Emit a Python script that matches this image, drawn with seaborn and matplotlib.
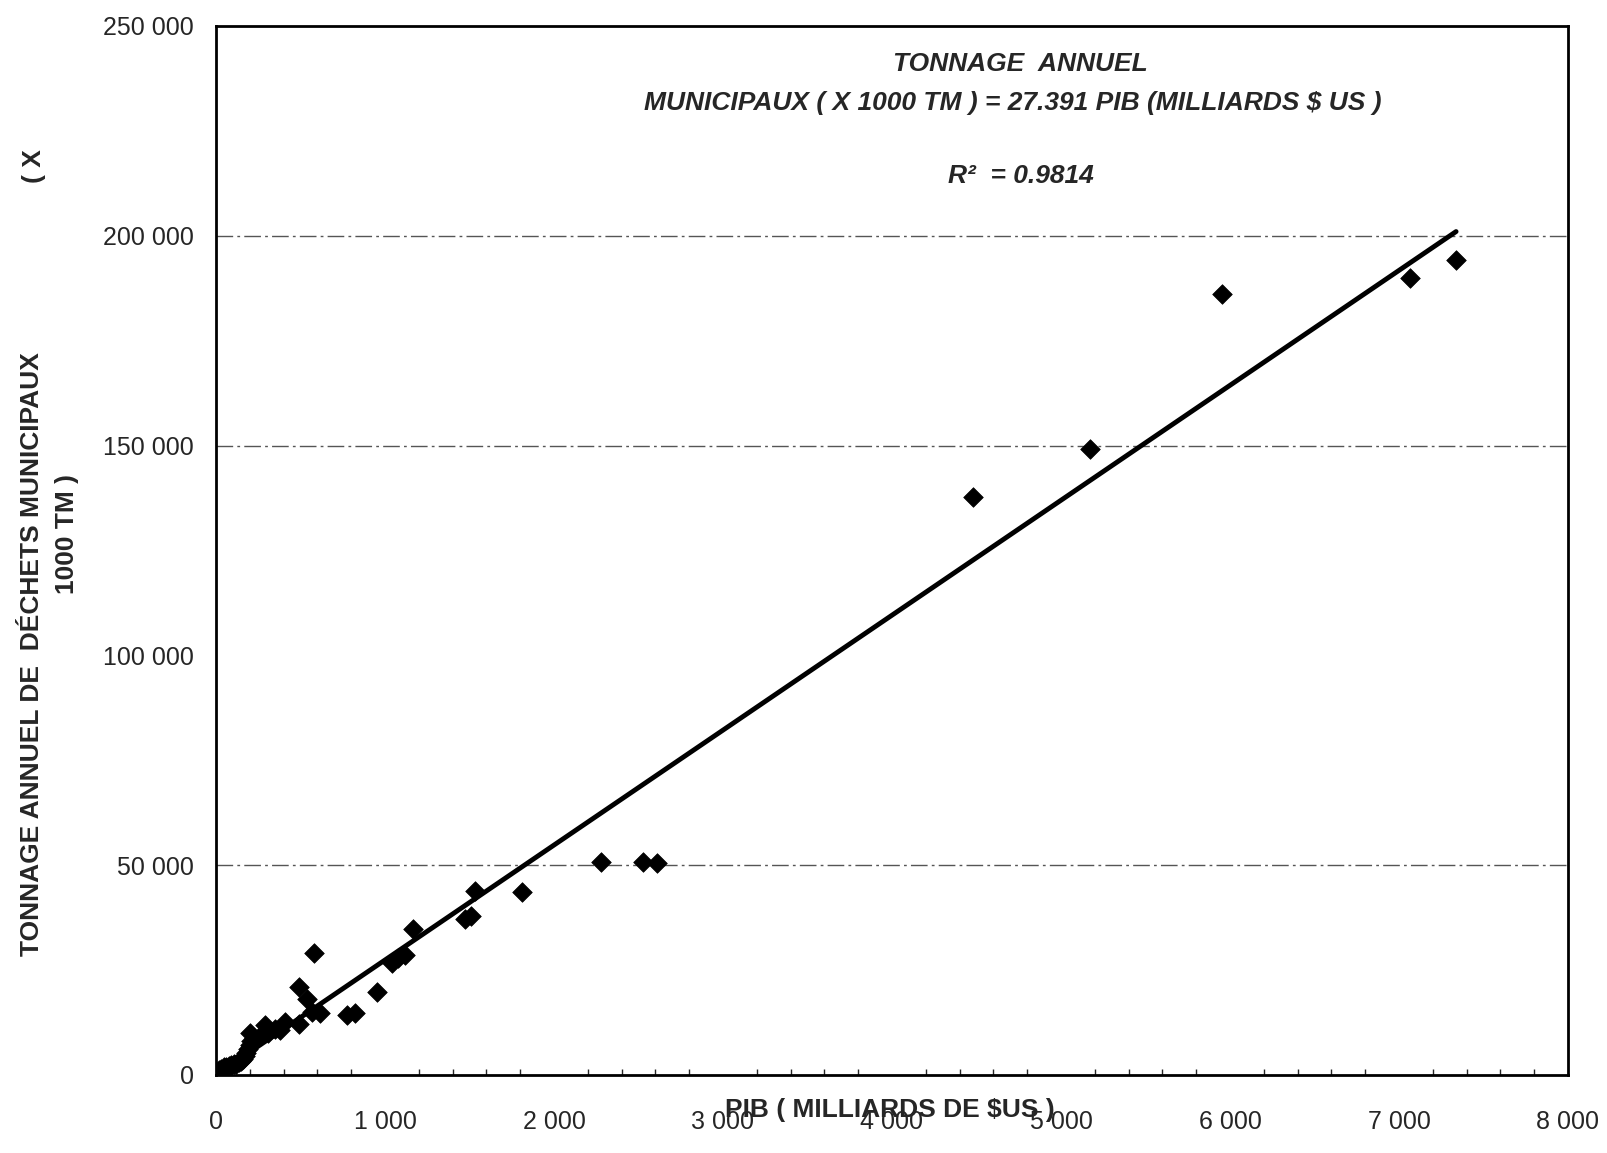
import numpy as np
import pandas as pd
import matplotlib
matplotlib.use("Agg")
import matplotlib.pyplot as plt
import seaborn as sns
from matplotlib.ticker import FuncFormatter, MultipleLocator

# data
pib = [7338, 7065, 5955, 5173, 4481, 2608, 2529, 2280, 1813, 1534, 1510, 1474,
       1164, 1118, 1079, 1040, 951, 822, 773, 615, 582, 566, 537, 491, 493,
       408, 379, 290, 201,
       350, 310, 260, 225, 210, 200, 190, 180, 170, 160, 150, 135, 120, 105,
       90, 75, 60, 45, 30, 20, 10, 40, 25, 5]
dechets = [194300, 190000, 186000, 149200, 137700, 50500, 50800, 50800, 43700,
           43900, 37800, 37100, 34700, 28600, 27800, 26600, 19700, 14850, 14300,
           14700, 29000, 15100, 18100, 20900, 12200, 12700, 10700, 11900, 9900,
           11000, 10000, 9200, 8800, 8000, 7100, 6200, 5300, 4500, 3800, 3300,
           3000, 2700, 2500, 2300, 2100, 2000, 1800, 1500, 1200, 800, 500, 300, 200]
pente = 27.391
r2 = 0.9814
grid_levels = [50000, 150000, 200000]

df = pd.DataFrame({"pib": pib, "dechets": dechets})
fit = pd.DataFrame({"pib": [0, max(pib)]})
fit["dechets"] = pente * fit["pib"]

sns.set_style("white")
plt.rcParams["font.family"] = ["Liberation Sans", "DejaVu Sans"]

fig = plt.figure(figsize=(16.07, 11.53), dpi=100)
ax = fig.add_axes([0.1344, 0.0677, 0.8413, 0.9098])

# horizontal dash-dot grid (only the ones visible in the scan)
for lv in grid_levels:
    ax.axhline(lv, color="#555555", lw=1.0, ls=(0, (12, 3, 2, 3)), zorder=1)

sns.lineplot(data=fit, x="pib", y="dechets", color="black", lw=3.5, ax=ax, zorder=2)
sns.scatterplot(data=df, x="pib", y="dechets", marker="D", s=100, color="black",
                edgecolor="black", linewidth=0.5, ax=ax, zorder=3)

ax.set_xlim(0, 8000)
ax.set_ylim(0, 250000)
ax.xaxis.set_major_locator(MultipleLocator(1000))
ax.xaxis.set_minor_locator(MultipleLocator(200))
ax.yaxis.set_major_locator(MultipleLocator(50000))

fmt = FuncFormatter(lambda v, p: f"{int(v):,}".replace(",", " "))
ax.xaxis.set_major_formatter(fmt)
ax.yaxis.set_major_formatter(fmt)

ax.tick_params(axis="x", which="major", direction="out", length=4, width=1.2,
               labelsize=18, pad=21)
ax.tick_params(axis="x", which="minor", direction="in", length=4, width=1,
               bottom=True)
ax.tick_params(axis="y", which="major", direction="out", length=5, width=1.2,
               labelsize=18, pad=11)

for s in ax.spines.values():
    s.set_color("black")
    s.set_linewidth(2)

ax.set_xlabel("")
ax.set_ylabel("")
fig.text(0.554, 0.037, "PIB ( MILLIARDS DE $US )", ha="center", va="center",
         fontsize=19, fontweight="bold")

fig.text(0.020, 0.433, "TONNAGE ANNUEL DE  DÉCHETS MUNICIPAUX", rotation=90,
         ha="center", va="center", fontsize=19, fontweight="bold")
fig.text(0.042, 0.537, "1000 TM )", rotation=90, ha="center", va="center",
         fontsize=19, fontweight="bold")
fig.text(0.021, 0.856, "( X", rotation=90, ha="center", va="center",
         fontsize=19, fontweight="bold")

fig.text(0.635, 0.9445, "TONNAGE  ANNUEL", ha="center", va="center",
         fontsize=19, fontweight="bold", style="italic")
fig.text(0.630, 0.9107, f"MUNICIPAUX ( X 1000 TM ) = {pente} PIB (MILLIARDS $ US )",
         ha="center", va="center", fontsize=19, fontweight="bold", style="italic")
fig.text(0.635, 0.847, f"R²  = {r2}", ha="center", va="center", fontsize=19,
         fontweight="bold", style="italic")

fig.savefig("out.png", dpi=100)
